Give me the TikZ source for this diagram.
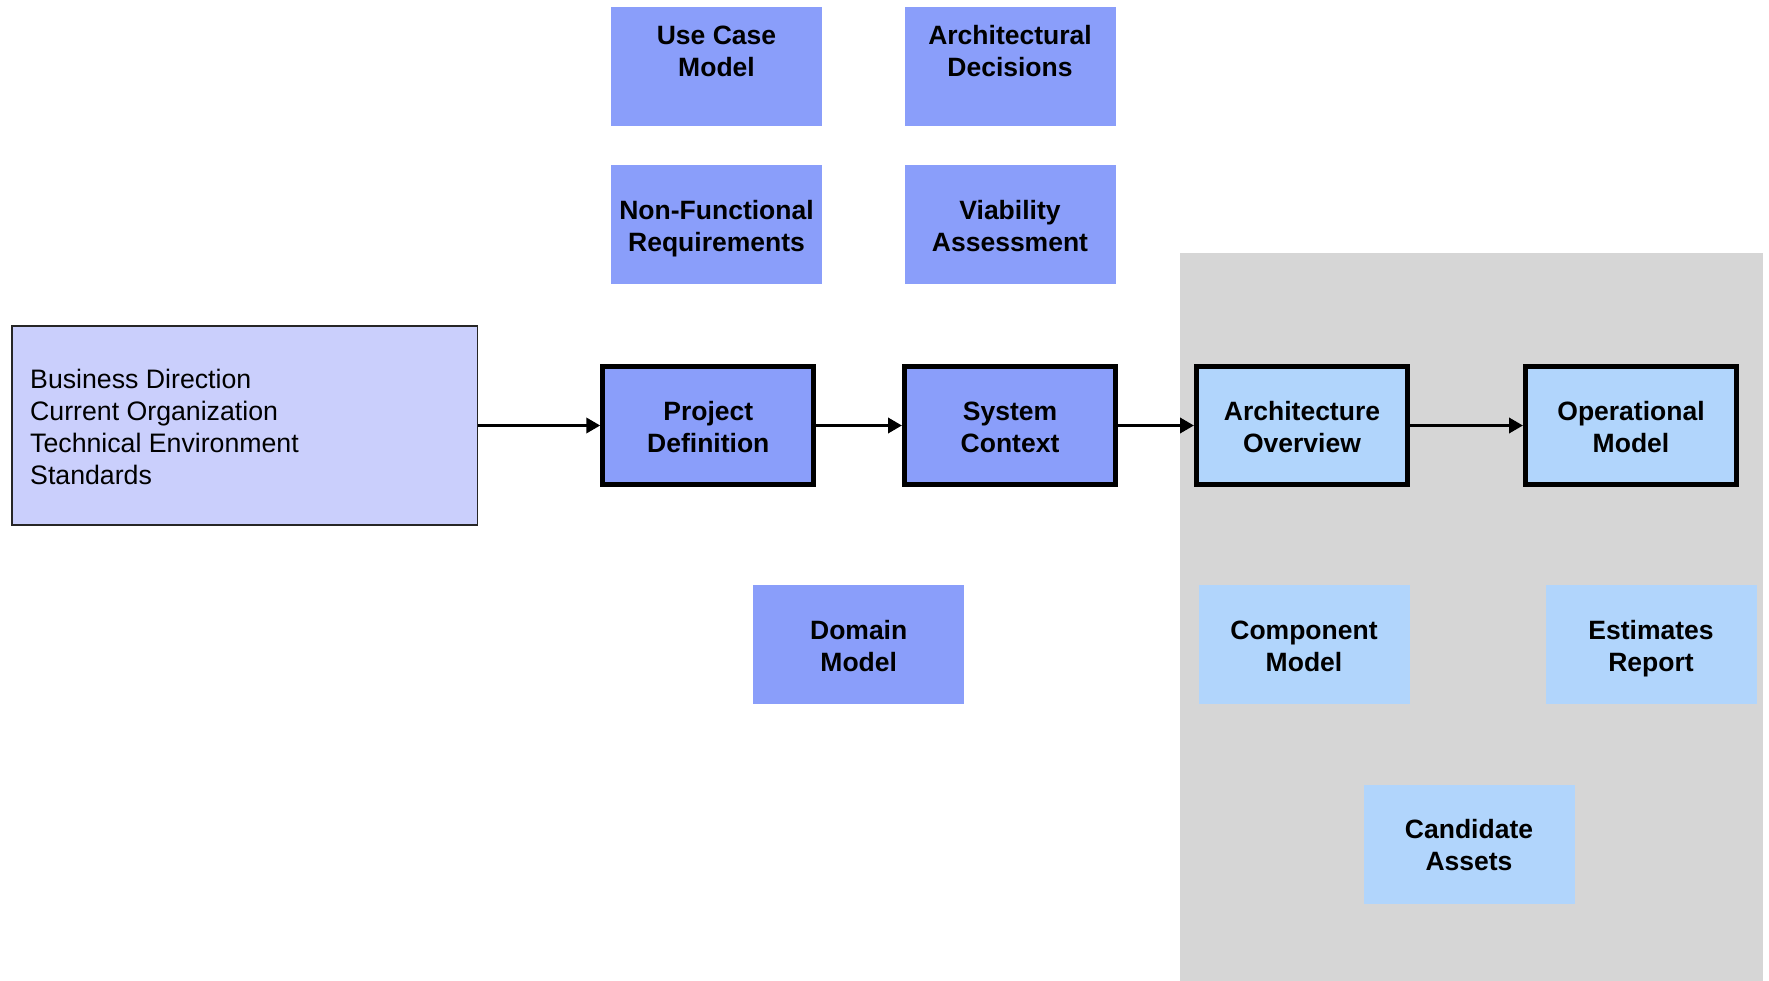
\documentclass[tikz,border=0pt]{standalone}
\usepackage{fontspec}
\setmainfont{Liberation Sans}
\usetikzlibrary{arrows.meta}
\definecolor{mainblue}{HTML}{8A9EFA}
\definecolor{lavender}{HTML}{CACFFC}
\definecolor{lightblue}{HTML}{B1D5FC}
\definecolor{graybg}{HTML}{D6D6D6}
\begin{document}
\begin{tikzpicture}[x=1pt,y=-1pt,
  boxfont/.style={font=\fontsize{26.5}{31.7}\selectfont\bfseries, align=center, text height=53pt, text depth=0pt},
  mainbox/.style={draw=black, line width=5pt, minimum width=211pt, minimum height=117.5pt, inner sep=0pt, boxfont},
  satbox/.style={minimum width=211pt, minimum height=119pt, inner sep=0pt, boxfont},
  sattext/.style={boxfont, inner sep=0pt},
  flow/.style={line width=3.5pt, -{Triangle[length=14pt,width=15pt]}}
]
\useasboundingbox (0,0) rectangle (1769,981);
\fill[white] (0,0) rectangle (1769,981);
% gray region
\fill[graybg] (1180,253) rectangle (1763,981);

% left input box
\node[draw=black!85, line width=1.5pt, fill=lavender, minimum width=465.5pt, minimum height=198.5pt, inner sep=0pt] (inp) at (244.5,425.5) {};
\node[anchor=west, align=left, inner sep=0pt, font=\fontsize{26.7}{32}\selectfont] (inptext) at (30,427) {Business Direction\\Current Organization\\Technical Environment\\Standards};

% main flow boxes
\node[mainbox, fill=mainblue] (pd) at (708.3,425.5) {Project\\Definition};
\node[mainbox, fill=mainblue] (sc) at (1010,425.5) {System\\Context};
\node[mainbox, fill=lightblue] (ao) at (1302,425.5) {Architecture\\Overview};
\node[mainbox, fill=lightblue] (om) at (1631,425.5) {Operational\\Model};

% top satellites
\node[satbox, fill=mainblue] (uc) at (716.5,66.3) {};
\node[sattext] (uct) at (716.5,50.2) {Use Case\\Model};
\node[satbox, fill=mainblue] (ad) at (1010,66.3) {};
\node[sattext] (adt) at (1010,50.2) {Architectural\\Decisions};
\node[satbox, fill=mainblue] (nf) at (716.5,225) {Non-Functional\\Requirements};
\node[satbox, fill=mainblue] (va) at (1010,225) {Viability\\Assessment};

% bottom satellites
\node[satbox, fill=mainblue] (dm) at (858.7,644.5) {Domain\\Model};
\node[satbox, fill=lightblue] (cm) at (1304,644.5) {Component\\Model};
\node[satbox, fill=lightblue] (er) at (1651,644.5) {Estimates\\Report};
\node[satbox, fill=lightblue] (ca) at (1469,844) {Candidate\\Assets};

% connectors
\draw[flow] (inp.east) -- (pd.west);
\draw[flow] (pd.east) -- (sc.west);
\draw[flow] (sc.east) -- (ao.west);
\draw[flow] (ao.east) -- (om.west);
\end{tikzpicture}
\end{document}
